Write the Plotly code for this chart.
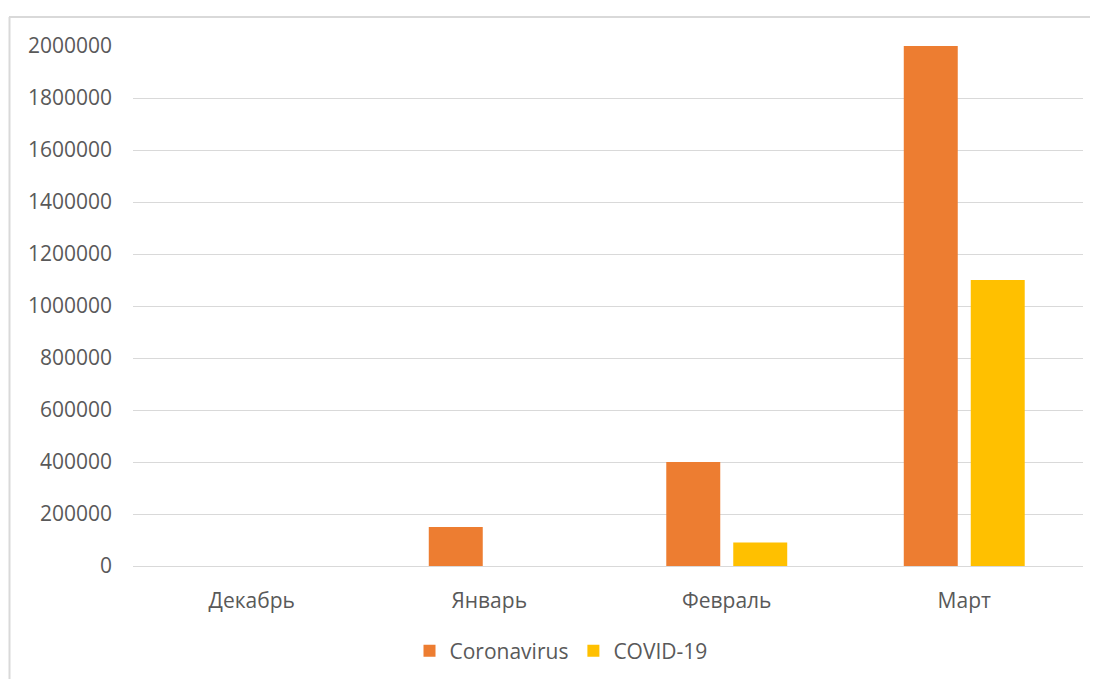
import plotly.graph_objects as go

categories = ["Декабрь", "Январь", "Февраль", "Март"]
coronavirus = [0, 150000, 400000, 2000000]
covid19 = [0, 0, 90000, 1100000]
tick_vals = [0, 200000, 400000, 600000, 800000, 1000000, 1200000, 1400000, 1600000, 1800000, 2000000]

OFF = 8  # page body margin
W, H = 1098 - OFF, 679 - OFF
L, T = 133 - OFF, 46 - OFF
pw, ph = 950, 520
R, B = W - L - pw, H - T - ph

def px(sx):
    return (sx - OFF - L) / pw

def py(sy):
    return (T + ph - (sy - OFF)) / ph

font = dict(family="Open Sans, sans-serif", size=21, color="#595959")

fig = go.Figure()
fig.add_trace(go.Bar(x=categories, y=coronavirus, name="Coronavirus", marker_color="#ED7D31", marker_line_width=0))
fig.add_trace(go.Bar(x=categories, y=covid19, name="COVID-19", marker_color="#FFC000", marker_line_width=0))

fig.update_layout(
    width=W, height=H,
    margin=dict(l=L, r=R, t=T, b=B, pad=0, autoexpand=False),
    paper_bgcolor="white", plot_bgcolor="white",
    barmode="group", bargap=0.436, bargroupgap=0.194,
    font=font,
    showlegend=True,
    legend=dict(orientation="h", x=px(561), xanchor="center", y=py(651), yanchor="middle",
                font=font, itemwidth=30, tracegroupgap=0),
    shapes=[
        dict(type="line", xref="paper", yref="paper", x0=px(9), x1=px(1100), y0=py(17), y1=py(17),
             line=dict(color="#D9D9D9", width=2)),
        dict(type="line", xref="paper", yref="paper", x0=px(9.5), x1=px(9.5), y0=py(17), y1=py(690),
             line=dict(color="#D9D9D9", width=2)),
    ],
)
fig.update_xaxes(showline=True, linecolor="#D9D9D9", linewidth=1, ticks="", showgrid=False,
                 tickfont=font, ticklabelstandoff=16, automargin=False)
fig.update_yaxes(range=[0, 2000000], tickvals=tick_vals, ticktext=[str(v) for v in tick_vals],
                 showgrid=True, gridcolor="#D9D9D9", gridwidth=1, zeroline=False, showline=False,
                 ticks="", tickfont=font, ticklabelstandoff=20, automargin=False)

fig.write_html("out.html")
